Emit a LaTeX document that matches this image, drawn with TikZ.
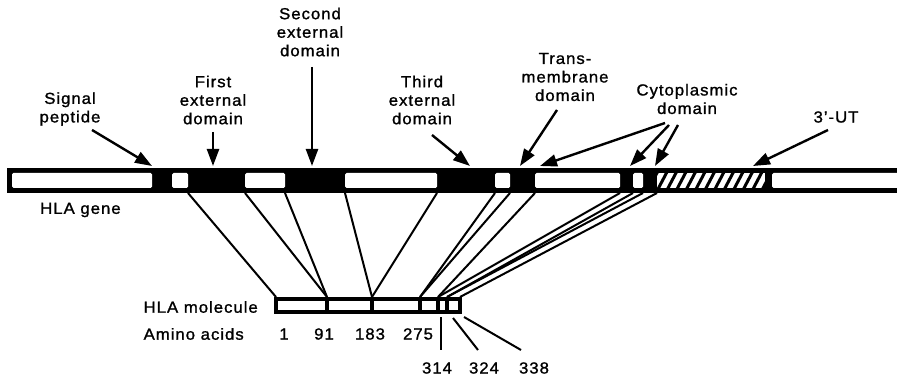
\documentclass[tikz,border=0pt]{standalone}
\usepackage{fontspec}
\setmainfont{Liberation Sans}[FakeStretch=1.05,LetterSpace=6,FakeBold=1.2]
\usetikzlibrary{arrows.meta}

\tikzset{
    lbl/.style={font=\fontsize{16}{18.5}\selectfont, align=center, inner sep=0pt},
    pointer/.style={line width=2.4pt, -{Triangle[length=17pt,width=12pt]}},
    link/.style={line width=2pt},
    gap/.style={fill=white, rounded corners=1.5pt},
}

\begin{document}
\begin{tikzpicture}[x=1pt, y=-1pt]
    \useasboundingbox (0,0) rectangle (897,382);
    \clip (0,0) rectangle (897,382);

    % gene: black strip, introns cut out in white
    \fill (7,168) rectangle (905,193);
    \foreach \a/\b in {12/152, 172/188, 245/285, 345/437, 495/510, 535/620, 633/643, 772/905}
        \fill[gap] (\a,173) rectangle (\b,188);
    % 3' untranslated part, hatched
    \fill[white] (657,173) rectangle (765,188);
    \begin{scope}
        \clip (657,173) rectangle (765,188);
        \foreach \x in {648,657.5,...,770}
            \draw[line width=3pt] (\x,190) -- (\x+10,171);
    \end{scope}

    % exon ends on the lower edge of the gene
    \foreach \n/\x in {1/188, 2/245, 3/285, 4/345, 5/437, 6/495, 7/510, 8/535, 9/620, 10/633, 11/643, 12/657}
        \coordinate (g\n) at (\x,193);

    % molecule
    \foreach \n/\x in {0/276, 1/327, 2/372, 3/420, 4/438, 5/447, 6/460}
        \coordinate (m\n) at (\x,297);
    \foreach \a/\b in {276/327, 327/372, 372/420, 420/438, 438/447, 447/460}
        \draw[line width=3.5pt] (\a,299) rectangle (\b,312);

    \draw[link] (g1) -- (m0);
    \draw[link] (g2) -- (m1);
    \draw[link] (g3) -- (m1);
    \draw[link] (g4) -- (m2);
    \draw[link] (g5) -- (m2);
    \draw[link] (g6) -- (m3);
    \draw[link] (g7) -- (m3);
    \draw[link] (g8) -- (m4);
    \draw[link] (g9) -- (m4);
    \draw[link] (g10) -- (m5);
    \draw[link] (g11) -- (m5);
    \draw[link] (g12) -- (m6);

    % labels
    \node[lbl] (sig) at (70,109) {Signal\\peptide};
    \node[lbl] (ext1) at (213,100) {First\\external\\domain};
    \node[lbl] (ext2) at (310,32) {Second\\external\\domain};
    \node[lbl] (ext3) at (422,100) {Third\\external\\domain};
    \node[lbl] (tm) at (565,77) {Trans-\\membrane\\domain};
    \node[lbl] (cyt) at (687,99) {Cytoplasmic\\domain};
    \node[lbl] (utr) at (836,117) {3'-UT};
    \node[lbl, anchor=west] (gene) at (40,210) {HLA gene};
    \node[lbl, anchor=east] (mol) at (258,307) {HLA molecule};
    \coordinate (aarow) at (0,334);
    \node[lbl, anchor=west] (aa) at (mol.west |- aarow) {Amino acids};

    % arrows onto the gene
    \draw[pointer] (92,130) -- (152,166);
    \draw[pointer] (213,132) -- (213,166);
    \draw[pointer] (312,67) -- (312,166);
    \draw[pointer] (432,135) -- (470,166);
    \draw[pointer] (557,110) -- (520,166);
    \draw[pointer] (665,123) -- (540,166);
    \draw[pointer] (669,125) -- (630,166);
    \draw[pointer] (678,125) -- (655,166);
    \draw[pointer] (828,130) -- (753,166);

    % amino acid positions
    \node[lbl] (a1) at (284,334) {1};
    \node[lbl] (a91) at (324,334) {91};
    \node[lbl] (a183) at (370,334) {183};
    \node[lbl] (a275) at (418,334) {275};
    \node[lbl] (a314) at (437,368) {314};
    \node[lbl] (a324) at (484,368) {324};
    \node[lbl] (a338) at (534,368) {338};

    \coordinate (t314) at (441,317);
    \coordinate (t324) at (453,318);
    \coordinate (t338) at (464,317);
    \coordinate (e314) at (441,350);
    \coordinate (e324) at (478,350);
    \coordinate (e338) at (521,350);
    \draw[link] (t314) -- (e314);
    \draw[link] (t324) -- (e324);
    \draw[link] (t338) -- (e338);
\end{tikzpicture}
\end{document}
